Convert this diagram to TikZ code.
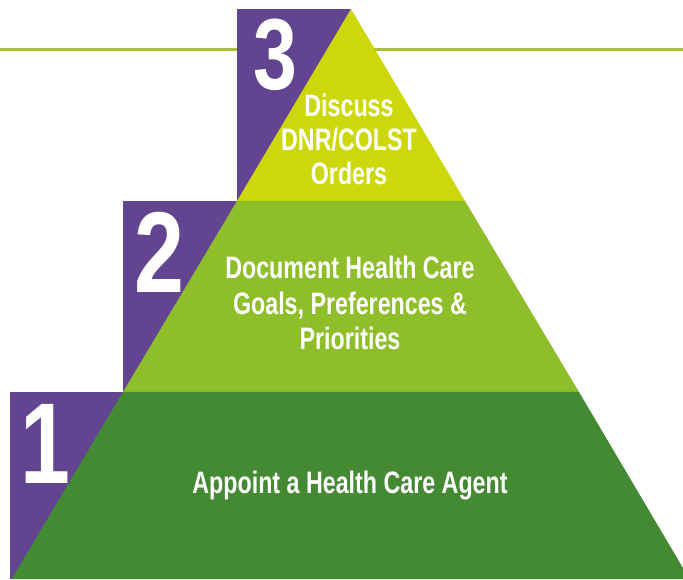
\documentclass[tikz,border=0pt]{standalone}
\usepackage{fontspec}
\newfontfamily\condfont[FakeStretch=0.75]{Liberation Sans}
\newfontfamily\numfont[FakeStretch=0.78]{Liberation Sans}
\definecolor{stepviolet}{HTML}{634491}
\definecolor{tierthree}{HTML}{CDD80A}
\definecolor{tiertwo}{HTML}{8EBF2A}
\definecolor{tierone}{HTML}{438A32}
\definecolor{rulegreen}{HTML}{A9BD3D}

\begin{document}
\begin{tikzpicture}[x=1pt,y=1pt,
  tier text/.style={text=white,align=center,font=\condfont\bfseries\fontsize{31}{34}\selectfont},
  step number/.style={text=white,inner sep=0pt,font=\numfont\bfseries\fontsize{113}{113}\selectfont}]
  \useasboundingbox (0,0) rectangle (683,579);

  \draw[rulegreen,line width=3pt] (0,529) -- (683,529);

  \fill[stepviolet] (237,378) rectangle (351,570);
  \fill[stepviolet] (123,187) rectangle (237,378);
  \fill[stepviolet] (9.5,0) rectangle (123,187);

  \fill[tierthree] (351,570) -- (465,378) -- (237,378) -- cycle;
  \fill[tiertwo] (237,378) -- (465,378) -- (579,187) -- (123,187) -- cycle;
  \fill[tierone] (123,187) -- (579,187) -- (683,11) -- (683,0) -- (11.7,0) -- cycle;

  \node[step number,font=\numfont\bfseries\fontsize{101}{101}\selectfont] (num3) at (275,524) {3};
  \node[step number,font=\numfont\bfseries\fontsize{115}{115}\selectfont] (num2) at (159,326.5) {2};
  \node[step number,font=\numfont\bfseries\fontsize{115}{115}\selectfont] (num1) at (45,135) {1};

  \node[tier text] (tier3) at (349,440) {Discuss\\DNR/COLST\\Orders};
  \node[tier text,font=\condfont\bfseries\fontsize{31}{35.5}\selectfont] (tier2) at (350,276) {Document Health Care\\Goals, Preferences \&\\Priorities};
  \node[tier text] (tier1) at (350,93) {Appoint a Health Care Agent};
\end{tikzpicture}
\end{document}
